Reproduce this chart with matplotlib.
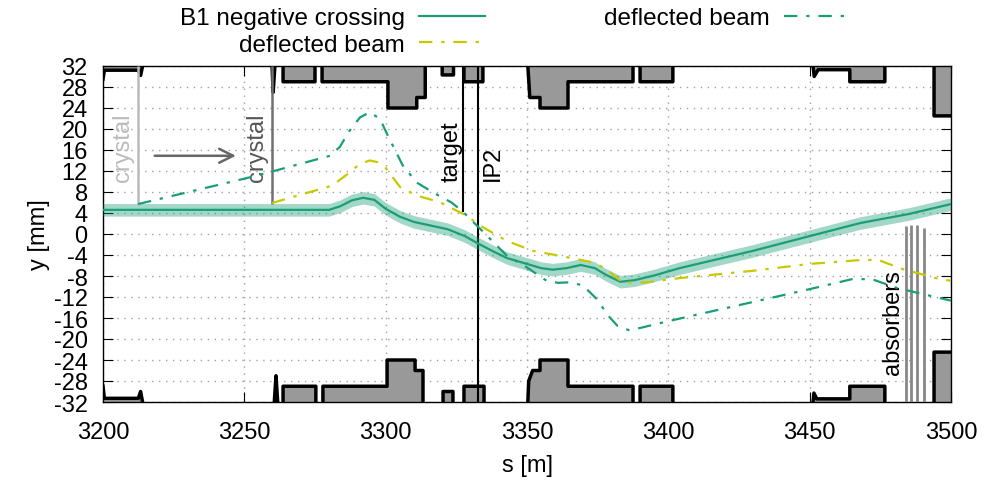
import matplotlib
matplotlib.use('Agg')
import matplotlib.pyplot as plt
import numpy as np

nan = np.nan

# beam trajectories [s in m, y in mm]
beam_s = [3200, 3280, 3284, 3288, 3292, 3296, 3300, 3305, 3310, 3316, 3322, 3328, 3333, 3338,
          3343, 3350, 3355, 3359, 3364, 3369, 3374, 3378, 3383, 3388, 3395, 3404, 3430, 3450,
          3468, 3485, 3500]
beam_y = [4.6, 4.6, 5.3, 6.4, 6.9, 6.5, 4.8, 3.3, 2.3, 1.6, 0.9, -0.4, -1.9, -3.3,
          -4.6, -5.7, -6.5, -6.8, -6.5, -5.9, -6.5, -7.8, -9.1, -8.8, -7.9, -6.5, -3.2, -0.4,
          2.1, 3.8, 5.7]
beam_sig = 1.2

yel_s = [3259.8, 3270, 3281, 3286, 3291, 3294.4, 3297, 3300, 3305, 3311, 3319, 3328.6, 3333.4,
         3342.8, 3352, 3364, 3372.3, 3376, 3379.4, 3384, 3392.3, 3404, 3430, 3450, 3467, 3474,
         3483, 3496, 3500]
yel_y = [5.9, 7.5, 9.2, 11.2, 13.4, 14.0, 13.7, 12.6, 9.0, 7.3, 6.1, 3.5, 1.6,
         -1.3, -3.2, -4.4, -5.3, -6.1, -7.3, -9.3, -9.2, -8.4, -7.0, -5.7, -5.0, -4.9,
         -6.7, -8.6, -8.9]

grn_s = [3212.4, 3252, 3259.8, 3280.3, 3283.8, 3287, 3290.9, 3294.4, 3298, 3300.8, 3306.1, 3311,
         3316.8, 3323.3, 3327.4, 3333.4, 3342.8, 3349.8, 3356.9, 3361, 3365.2, 3369.8, 3374.7,
         3378.8, 3382, 3386, 3390, 3400, 3450, 3465, 3472, 3481, 3491.3, 3500]
grn_y = [5.7, 10.8, 11.9, 14.9, 16.6, 19.5, 22.2, 23.2, 21.9, 18.7, 13.0, 9.8,
         7.9, 6.0, 4.2, 1.0, -4.1, -6.3, -8.9, -9.3, -9.2, -9.8, -12.4,
         -15.6, -17.5, -18.3, -17.9, -16.6, -10.5, -8.6, -8.6, -10.3, -11.6, -12.7]

# aperture (nan = gap)
top_s = [3200, 3200.5, 3212.5, 3213.3, 3214, nan,
         3259.8, 3260.2, 3260.8, nan,
         3263.7, 3263.7, 3275, 3275, nan,
         3277.5, 3277.5, 3300.8, 3300.8, 3311, 3311, 3314, 3314, nan,
         3320, 3320, 3324, 3324, nan,
         3327.7, 3327.7, 3334.4, 3334.4, nan,
         3350.3, 3351, 3354.6, 3354.6, 3364.5, 3364.5, 3387.5, 3387.5, nan,
         3390, 3390, 3401.6, 3401.6, nan,
         3451.2, 3451.6, 3453, 3464.2, 3464.2, 3476.6, 3476.6, nan,
         3494, 3494, 3500]
top_y = [29.5, 31.2, 31.2, 30.2, 32, nan,
         32, 27, 32, nan,
         32, 29, 29, 32, nan,
         32, 29, 29, 24, 24, 26, 26, 32, nan,
         32, 30.3, 30.3, 32, nan,
         32, 29, 29, 32, nan,
         32, 26, 26, 24, 24, 29, 29, 32, nan,
         32, 29, 29, 32, nan,
         32, 30, 31.3, 31.3, 29, 29, 32, nan,
         32, 22.5, 22.5]

bot_s = [3200, 3200.5, 3212.5, 3213.3, 3214, nan,
         3260.6, 3261.2, 3261.8, nan,
         3263.7, 3263.7, 3275.3, 3275.3, nan,
         3277.8, 3277.8, 3300.5, 3300.5, 3310.4, 3310.4, 3313.2, 3313.2, nan,
         3320.3, 3320.3, 3323.8, 3323.8, nan,
         3327.7, 3327.7, 3334.8, 3334.8, nan,
         3350.3, 3350.6, 3352, 3354.6, 3354.6, 3364.5, 3364.5, 3387.5, 3387.5, nan,
         3390, 3390, 3401.6, 3401.6, nan,
         3451.2, 3451.5, 3452.5, 3464.2, 3464.2, 3476.6, 3476.6, nan,
         3494, 3494, 3500]
bot_y = [-29, -31.3, -31.3, -30, -32, nan,
         -32, -27, -32, nan,
         -32, -29, -29, -32, nan,
         -32, -29, -29, -24, -24, -26, -26, -32, nan,
         -32, -30, -30, -32, nan,
         -32, -29, -29, -32, nan,
         -32, -28, -26, -26, -24, -24, -29, -29, -32, nan,
         -32, -29, -29, -32, nan,
         -32, -30.3, -31.4, -31.4, -29, -29, -32, nan,
         -32, -22.5, -22.5]

# elements
crystal_s = [3212.4, 3259.8]
crystal_y0 = [5.7, 5.7]
target_s, target_y0 = 3327.3, 4.2
ip2_s = 3332.6
absorber_s = [3484.2, 3486.0, 3488.1, 3490.4]
absorber_top = [1.5, 1.7, 1.7, 1.1]

plt.rcParams['font.family'] = ['Liberation Sans', 'DejaVu Sans']
plt.rcParams['axes.unicode_minus'] = False

green = '#1b9e77'
yellow = '#c8c800'
dd = (0, (6, 4, 1.5, 4))

fig = plt.figure(figsize=(9.89, 4.85), dpi=100)
ax = fig.add_axes([103/989, 1-403/485, 848/989, 336/485])

# aperture
ax.fill_between(top_s, top_y, 32, color='#999999', lw=0, zorder=2)
ax.plot(top_s, top_y, color='k', lw=2.5, zorder=3)
ax.fill_between(bot_s, bot_y, -32, color='#999999', lw=0, zorder=2)
ax.plot(bot_s, bot_y, color='k', lw=2.5, zorder=3)

# elements
ax.vlines(crystal_s[0], crystal_y0[0], 32, color='#bbbbbb', lw=1.8, zorder=3)
ax.vlines(crystal_s[1], crystal_y0[1], 32, color='#707070', lw=1.8, zorder=3)
ax.vlines(target_s, target_y0, 32, color='k', lw=1.5, zorder=3)
ax.vlines(ip2_s, -32, 32, color='k', lw=1.5, zorder=3)
ax.vlines(absorber_s, -32, absorber_top, color='#888888', lw=2, zorder=3)

ax.text(3207, 16.7, 'crystal', rotation=90, ha='center', va='center', fontsize=17, color='#bbbbbb')
ax.text(3254.6, 16.7, 'crystal', rotation=90, ha='center', va='center', fontsize=17, color='#555555')
ax.text(3323.5, 15.8, 'target', rotation=90, ha='center', va='center', fontsize=17)
ax.text(3338, 13.7, 'IP2', rotation=90, ha='center', va='center', fontsize=17)
ax.text(3479.5, -16.6, 'absorbers', rotation=90, ha='center', va='center', fontsize=17)
ax.annotate('', xy=(3248, 14.9), xytext=(3217.3, 14.9),
            arrowprops=dict(arrowstyle='->', color='#666666', lw=1.8, mutation_scale=25))

# beams
b = np.array(beam_y)
ax.fill_between(beam_s, b - beam_sig, b + beam_sig, color=green, alpha=0.4, lw=0, zorder=4)
l1, = ax.plot(beam_s, beam_y, color=green, lw=1.6, zorder=5)
l2, = ax.plot(yel_s, yel_y, color=yellow, lw=1.6, ls=dd, zorder=5)
l3, = ax.plot(grn_s, grn_y, color=green, lw=1.6, ls=dd, zorder=5)

ax.set_xlim(3200, 3500)
ax.set_ylim(-32, 32)
ax.set_xticks(np.arange(3200, 3501, 50))
ax.set_yticks(np.arange(-32, 33, 4))
ax.grid(True, color='#a0a0a0', lw=1, ls=(0, (1, 4)))
ax.tick_params(direction='in', top=True, right=True, length=7, labelsize=17)
ax.tick_params(axis='y', pad=11)
ax.tick_params(axis='x', pad=14)
for sp in ax.spines.values():
    sp.set_linewidth(1)

ax.set_xlabel('s [m]', fontsize=17)
ax.set_ylabel('y [mm]', fontsize=17)
ax.xaxis.set_label_coords(0.5, -0.155)
ax.yaxis.set_label_coords(-0.062, 0.5)

# legend, two columns placed by hand
kw = dict(frameon=False, markerfirst=False, fontsize=17.5, borderpad=0, borderaxespad=0,
          handlelength=2.7, handletextpad=0.6, labelspacing=0.2)
fig.legend([l1, l2], ['B1 negative crossing', 'deflected beam'], loc='upper right',
           bbox_to_anchor=(485/989, 1-8/485), **kw)
fig.legend([l3], ['deflected beam'], loc='upper right',
           bbox_to_anchor=(850/989, 1-8/485), **kw)

fig.savefig('out.png', dpi=100)
